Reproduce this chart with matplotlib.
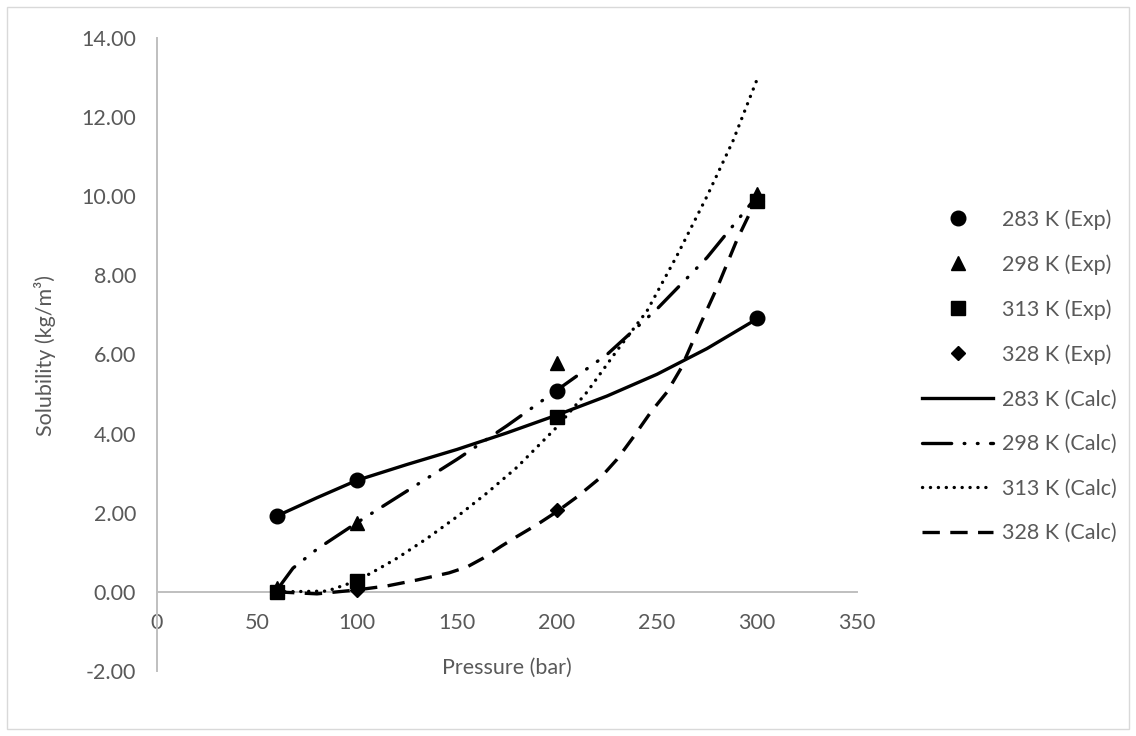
import matplotlib
matplotlib.use("Agg")
import matplotlib.pyplot as plt
from matplotlib.patches import Rectangle

# experimental points
pressure = [60, 100, 200, 300]
exp_283 = [1.93, 2.82, 5.08, 6.93]
exp_298 = [0.10, 1.75, 5.78, 10.05]
exp_313 = [0.00, 0.27, 4.42, 9.88]
exp_328 = [0.00, 0.05, 2.07, 9.90]

# calculated curves
calc_283_p = [60, 80, 100, 125, 150, 175, 200, 225, 250, 275, 300]
calc_283 = [1.92, 2.38, 2.82, 3.22, 3.60, 4.02, 4.47, 4.95, 5.50, 6.15, 6.90]

calc_298_p = [60, 68, 80, 100, 125, 150, 175, 200, 225, 250, 275, 300]
calc_298 = [0.05, 0.60, 1.08, 1.75, 2.55, 3.35, 4.20, 5.10, 6.00, 7.15, 8.45, 10.00]

calc_313_p = [60, 85, 100, 110, 120, 135, 150, 165, 180, 200, 215, 230, 245, 260, 275, 288, 300]
calc_313 = [0.00, 0.02, 0.28, 0.56, 0.85, 1.35, 1.90, 2.50, 3.15, 4.17, 5.05, 6.10, 7.10, 8.50, 10.00, 11.40, 12.95]

calc_328_p = [60, 80, 100, 115, 130, 146, 155, 163, 172, 180, 190, 200, 210, 222, 230, 238, 247, 255, 262, 272, 281, 290, 300]
calc_328 = [0.00, -0.05, 0.05, 0.15, 0.30, 0.48, 0.63, 0.85, 1.15, 1.40, 1.70, 2.03, 2.40, 2.90, 3.35, 3.90, 4.55, 5.05, 5.65, 6.80, 7.80, 8.90, 9.95]

x_ticks = [0, 50, 100, 150, 200, 250, 300, 350]
y_ticks = [-2, 0, 2, 4, 6, 8, 10, 12, 14]

plt.rcParams['font.family'] = ['Lato', 'DejaVu Sans']
plt.rcParams['lines.scale_dashes'] = False
txt = '#595959'
axc = '#BFBFBF'
fs = 15.5

fig = plt.figure(figsize=(11.36, 7.36), dpi=100)
ax = fig.add_axes([157/1136, 1-671/736, 700/1136, 633/736])

# markers
ax.plot(pressure, exp_283, 'o', color='black', ms=10.5, ls='none', label='283 K (Exp)', zorder=5)
ax.plot(pressure, exp_298, '^', color='black', ms=10, ls='none', label='298 K (Exp)', zorder=5)
ax.plot(pressure, exp_313, 's', color='black', ms=10, ls='none', label='313 K (Exp)', zorder=5)
ax.plot(pressure, exp_328, 'D', color='black', ms=7.5, ls='none', label='328 K (Exp)', zorder=5)

# lines
lw = 2.4
ax.plot(calc_283_p, calc_283, '-', color='black', lw=lw, label='283 K (Calc)', zorder=3)
ax.plot(calc_298_p, calc_298, color='black', lw=lw, ls=(0, (21, 9, 0.5, 9, 0.5, 9)),
        dash_capstyle='round', label='298 K (Calc)', zorder=3)
ax.plot(calc_313_p, calc_313, color='black', lw=lw, ls=(0, (0.1, 5.6)),
        dash_capstyle='round', label='313 K (Calc)', zorder=3)
ax.plot(calc_328_p, calc_328, color='black', lw=lw, ls=(0, (12.5, 7.5)),
        label='328 K (Calc)', zorder=3)

ax.set_xlim(0, 350)
ax.set_ylim(-2, 14)
ax.set_xticks(x_ticks)
ax.set_yticks(y_ticks)
ax.set_yticklabels(['%.2f' % v for v in y_ticks])

for s in ['top', 'right']:
    ax.spines[s].set_visible(False)
ax.spines['bottom'].set_position(('data', 0))
ax.spines['bottom'].set_color(axc)
ax.spines['bottom'].set_linewidth(1.4)
ax.spines['left'].set_color(axc)
ax.spines['left'].set_linewidth(1.4)
ax.tick_params(axis='x', length=0, pad=15, labelsize=fs, labelcolor=txt)
ax.tick_params(axis='y', length=0, pad=15, labelsize=fs, labelcolor=txt)

fig.text(507/1136, 1-668/736, 'Pressure (bar)', ha='center', va='center', fontsize=fs, color=txt)
fig.text(45/1136, 1-355/736, 'Solubility (kg/m³)', ha='center', va='center',
         rotation=90, fontsize=fs, color=txt)

leg = fig.legend(loc='upper left', bbox_to_anchor=(922/1136, 1-209/736), frameon=False,
                 fontsize=fs, labelcolor=txt, handlelength=3.3, handletextpad=0.42,
                 labelspacing=1.14, borderpad=0, borderaxespad=0)

fig.add_artist(Rectangle((7/1136, 7/736), 1-14/1136, 1-14/736, transform=fig.transFigure,
                         fill=False, edgecolor='#D9D9D9', lw=1))

fig.savefig('out.png', dpi=100)
